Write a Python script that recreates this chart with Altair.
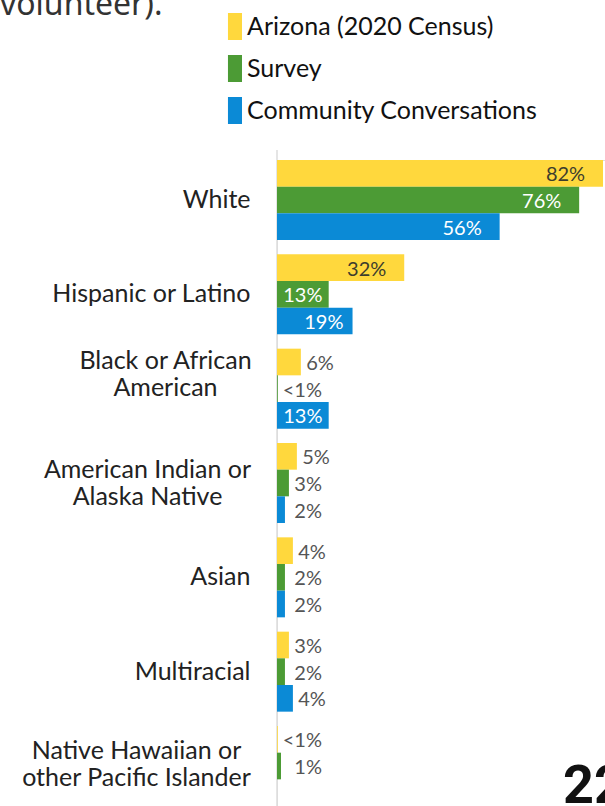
import altair as alt
import pandas as pd

# ---- data ----
categories = [
    "White",
    "Hispanic or Latino",
    "Black or African\nAmerican",
    "American Indian or\nAlaska Native",
    "Asian",
    "Multiracial",
    "Native Hawaiian or\nother Pacific Islander",
]
series = ["Arizona (2020 Census)", "Survey", "Community Conversations"]
colors = ["#FFD83D", "#4C9B35", "#0B8AD6"]

arizona_values = [82, 32, 6, 5, 4, 3, 0.2]
arizona_labels = ["82%", "32%", "6%", "5%", "4%", "3%", "<1%"]
survey_values = [76, 13, 0.2, 3, 2, 2, 1]
survey_labels = ["76%", "13%", "<1%", "3%", "2%", "2%", "1%"]
community_values = [56, 19, 13, 2, 2, 4, None]
community_labels = ["56%", "19%", "13%", "2%", "2%", "4%", None]

page_text_top = ["volunteer)."]
page_number = ["22"]

rows = []
for s, vals, labs in [
    (series[0], arizona_values, arizona_labels),
    (series[1], survey_values, survey_labels),
    (series[2], community_values, community_labels),
]:
    for c, v, l in zip(categories, vals, labs):
        if v is None:
            continue
        rows.append({"category": c, "series": s, "value": v, "label": l})
df = pd.DataFrame(rows)

FONT = "Lato"
W, H = 328, 646
LEFT, TOP = 277, 160


def is_cat(i):
    return "datum.value == " + repr(categories[i])


# two-line category labels are centred as a block, like the original
multi = [(2, -28, 112), (3, -13.5, 130), (6, -15, 141)]  # (category index, offset, padding)

y_enc = alt.Y(
    "category:N",
    sort=categories,
    title=None,
    scale=alt.Scale(paddingInner=0.152, paddingOuter=0),
    axis=alt.Axis(
        domain=False,
        ticks=False,
        labelExpr="split(datum.label, '\\n')",
        labelFont=FONT,
        labelFontSize=25,
        labelColor="#222222",
        labelPadding={
            "condition": [{"test": is_cat(i), "value": p} for i, o, p in multi],
            "value": 27,
        },
        labelOffset={
            "condition": [{"test": is_cat(i), "value": o} for i, o, p in multi],
            "value": 0,
        },
        labelAlign={
            "condition": [{"test": is_cat(i), "value": "center"} for i, o, p in multi],
            "value": "right",
        },
        labelLineHeight=27,
        labelLimit=300,
    ),
)
yoff = alt.YOffset("series:N", sort=series, scale=alt.Scale(paddingInner=0, paddingOuter=0))
x_scale = alt.Scale(domain=[0, 82.5], zero=True, nice=False)

base = alt.Chart(df)

bars = base.mark_bar().encode(
    x=alt.X("value:Q", scale=x_scale, axis=None, title=None),
    y=y_enc,
    yOffset=yoff,
    color=alt.Color(
        "series:N",
        sort=series,
        scale=alt.Scale(domain=series, range=colors),
        legend=alt.Legend(
            title=None,
            orient="none",
            legendX=-62,
            legendY=-147,
            symbolType="M-0.04,-1H1V1H-0.04Z",
            symbolSize=729,
            symbolStrokeWidth=0,
            symbolOpacity=1,
            labelFont=FONT,
            labelFontSize=25,
            labelColor="#111111",
            labelOffset=5,
            rowPadding=15,
            labelLimit=400,
        ),
    ),
)

labels_in = base.transform_filter("datum.value >= 10").transform_calculate(
    lx="datum.value >= 30 ? datum.value - 4.5 : datum.value * 0.88"
).mark_text(align="right", baseline="middle", dy=2, font=FONT, fontSize=20).encode(
    x=alt.X("lx:Q", scale=x_scale),
    y=alt.Y("category:N", sort=categories),
    yOffset=yoff,
    text="label:N",
    color=alt.condition(
        "datum.series == 'Arizona (2020 Census)'", alt.value("#3d3d2d"), alt.value("#ffffff")
    ),
)

labels_out = base.transform_filter("datum.value < 10").transform_calculate(
    lx="max(datum.value, 3)"
).mark_text(align="right", baseline="middle", dx=33, dy=2, font=FONT, fontSize=20, color="#555555").encode(
    x=alt.X("lx:Q", scale=x_scale),
    y=alt.Y("category:N", sort=categories),
    yOffset=yoff,
    text="label:N",
)

axis_line = alt.Chart(pd.DataFrame({"a": [0]})).mark_rule(color="#dcdcdc", strokeWidth=1.5).encode(
    x=alt.value(0), y=alt.value(-10), y2=alt.value(H)
)

top_text = alt.Chart(pd.DataFrame({"t": page_text_top})).mark_text(
    align="left", baseline="alphabetic", font="Noto Sans", fontSize=32, color="#333333"
).encode(text="t:N", x=alt.value(-LEFT), y=alt.value(15 - TOP))

num_text = alt.Chart(pd.DataFrame({"t": page_number})).mark_text(
    align="left", baseline="alphabetic", font="Roboto",
    fontWeight="bold", fontSize=54, color="#111111"
).encode(text="t:N", x=alt.value(563 - LEFT), y=alt.value(803 - TOP))

chart = alt.layer(axis_line, bars, labels_in, labels_out, top_text, num_text).properties(
    width=W,
    height=H,
    padding={"left": LEFT, "top": TOP, "right": 0, "bottom": 0},
    autosize=alt.AutoSizeParams(type="none"),
).configure_view(stroke=None).configure(background="white")

chart.save("out.html", embed_options={"renderer": "svg", "actions": False})
